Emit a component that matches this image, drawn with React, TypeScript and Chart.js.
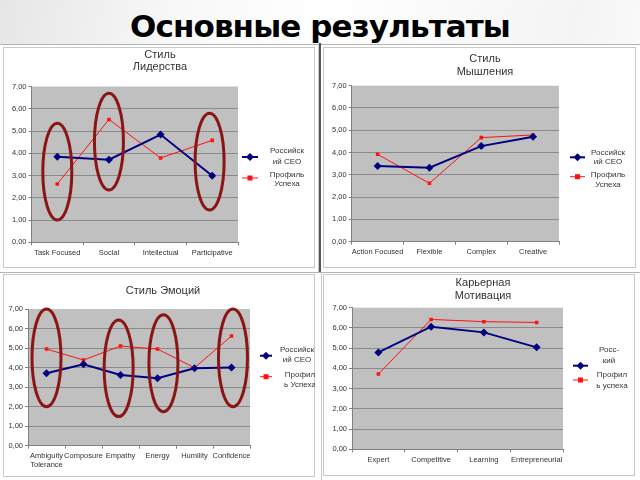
import React, { useEffect, useRef } from 'react';
import { Chart, registerables } from 'chart.js';

Chart.register(...registerables);

// ---------- data ----------
const leadershipTitle = ['Стиль', 'Лидерства'];
const leadershipCategories = ['Task Focused', 'Social', 'Intellectual', 'Participative'];
const leadershipCeo = [3.84, 3.71, 4.84, 2.99];
const leadershipSuccess = [2.62, 5.52, 3.79, 4.58];
const leadershipHighlights = [
  { at: 0, top: 5.35, bottom: 1.0 },
  { at: 1, top: 6.7, bottom: 2.35 },
  { at: 2.95, top: 5.8, bottom: 1.45 },
];

const thinkingTitle = ['Стиль', 'Мышления'];
const thinkingCategories = ['Action Focused', 'Flexible', 'Complex', 'Creative'];
const thinkingCeo = [3.4, 3.32, 4.29, 4.71];
const thinkingSuccess = [3.92, 2.62, 4.67, 4.79];

const emotionTitle = ['Стиль Эмоций'];
const emotionCategories = [['Ambiguity', 'Tolerance'], 'Composure', 'Empathy', 'Energy', 'Humility', 'Confidence'];
const emotionCeo = [3.71, 4.17, 3.62, 3.45, 3.96, 4.01];
const emotionSuccess = [4.95, 4.39, 5.1, 4.95, 3.99, 5.62];
const emotionHighlights = [
  { at: 0, top: 7.0, bottom: 2.0 },
  { at: 1.95, top: 6.44, bottom: 1.49 },
  { at: 3.16, top: 6.7, bottom: 1.74 },
  { at: 5.04, top: 7.0, bottom: 2.0 },
];

const motivationTitle = ['Карьерная', 'Мотивация'];
const motivationCategories = ['Expert', 'Competitive', 'Learning', 'Entrepreneurial'];
const motivationCeo = [4.79, 6.06, 5.78, 5.04];
const motivationSuccess = [3.72, 6.42, 6.31, 6.27];

const ceoLegendA = ['Российск', 'ий CEO'];
const successLegendA = ['Профиль', 'Успеха'];
const successLegendB = ['Профил', 'ь Успеха'];
const ceoLegendShort = ['Росс-', 'кий'];
const successLegendLower = ['Профил', 'ь успеха'];

const yMin = 0;
const yMax = 7;
const yStep = 1;

// ---------- styles ----------
const FONT = '"Liberation Sans", Arial, sans-serif';
const TEXT = '#333333';
const CEO_COLOR = '#000080';
const SUCCESS_COLOR = '#ff1010';
const ELLIPSE_COLOR = '#8b1414';
const PLOT_BG = '#c0c0c0';

type Highlight = { at: number; top: number; bottom: number };
type LegendEntry = { lines: string[]; lineY: number; textYs: number[]; textX: number };
type PanelCfg = {
  title: string[];
  categories: any[];
  ceo: number[];
  success: number[];
  highlights: Highlight[];
  box: { x: number; y: number; w: number; h: number };
  plot: { l: number; r: number; t: number; b: number };
  titlePos: { x: number; ys: number[] };
  legend: { x1: number; x2: number; ceo: LegendEntry; success: LegendEntry };
};

const panels: PanelCfg[] = [
  {
    title: leadershipTitle,
    categories: leadershipCategories,
    ceo: leadershipCeo,
    success: leadershipSuccess,
    highlights: leadershipHighlights,
    box: { x: 3, y: 47, w: 312, h: 221 },
    plot: { l: 31.5, r: 238, t: 86.5, b: 242.3 },
    titlePos: { x: 160, ys: [55, 67] },
    legend: {
      x1: 242, x2: 258,
      ceo: { lines: ceoLegendA, lineY: 157, textYs: [151, 162], textX: 287 },
      success: { lines: successLegendA, lineY: 178, textYs: [175, 184], textX: 287 },
    },
  },
  {
    title: thinkingTitle,
    categories: thinkingCategories,
    ceo: thinkingCeo,
    success: thinkingSuccess,
    highlights: [],
    box: { x: 323, y: 47, w: 313, h: 221 },
    plot: { l: 351.7, r: 559, t: 85.7, b: 241.7 },
    titlePos: { x: 485, ys: [59, 72] },
    legend: {
      x1: 570, x2: 585,
      ceo: { lines: ceoLegendA, lineY: 157.3, textYs: [152.7, 162], textX: 608 },
      success: { lines: successLegendA, lineY: 176.7, textYs: [175, 184.3], textX: 608 },
    },
  },
  {
    title: emotionTitle,
    categories: emotionCategories,
    ceo: emotionCeo,
    success: emotionSuccess,
    highlights: emotionHighlights,
    box: { x: 3, y: 274, w: 312, h: 203 },
    plot: { l: 28, r: 250, t: 309, b: 445.7 },
    titlePos: { x: 163, ys: [291] },
    legend: {
      x1: 260, x2: 272,
      ceo: { lines: ceoLegendA, lineY: 355.7, textYs: [350, 360], textX: 297 },
      success: { lines: successLegendB, lineY: 376.7, textYs: [375, 385], textX: 300 },
    },
  },
  {
    title: motivationTitle,
    categories: motivationCategories,
    ceo: motivationCeo,
    success: motivationSuccess,
    highlights: [],
    box: { x: 323, y: 274, w: 312, h: 202 },
    plot: { l: 352, r: 563, t: 307.7, b: 449.3 },
    titlePos: { x: 483, ys: [283, 296] },
    legend: {
      x1: 573, x2: 588,
      ceo: { lines: ceoLegendShort, lineY: 365.7, textYs: [350, 360.7], textX: 609 },
      success: { lines: successLegendLower, lineY: 380, textYs: [375, 385.7], textX: 612 },
    },
  },
];

function drawDiamond(ctx: CanvasRenderingContext2D, x: number, y: number, r: number, color: string) {
  ctx.beginPath();
  ctx.moveTo(x, y - r);
  ctx.lineTo(x + r, y);
  ctx.lineTo(x, y + r);
  ctx.lineTo(x - r, y);
  ctx.closePath();
  ctx.fillStyle = color;
  ctx.fill();
}

function makeDecor(cfg: PanelCfg) {
  const ox = cfg.box.x;
  const oy = cfg.box.y;
  return {
    id: 'decor',
    beforeDraw(chart: any) {
      const { ctx, chartArea } = chart;
      ctx.save();
      ctx.fillStyle = PLOT_BG;
      ctx.fillRect(chartArea.left, chartArea.top, chartArea.right - chartArea.left, chartArea.bottom - chartArea.top);
      ctx.restore();
    },
    afterDatasetsDraw(chart: any) {
      const { ctx } = chart;
      const xs = chart.scales.x;
      const ys = chart.scales.y;
      ctx.save();
      ctx.strokeStyle = ELLIPSE_COLOR;
      ctx.lineWidth = 3;
      for (const h of cfg.highlights) {
        const cx = xs.getPixelForValue(h.at);
        const yt = ys.getPixelForValue(h.top);
        const yb = ys.getPixelForValue(h.bottom);
        ctx.beginPath();
        ctx.ellipse(cx, (yt + yb) / 2, 14.5, (yb - yt) / 2, 0, 0, Math.PI * 2);
        ctx.stroke();
      }
      ctx.restore();
    },
    afterDraw(chart: any) {
      const { ctx } = chart;
      ctx.save();
      // title
      ctx.fillStyle = TEXT;
      ctx.textAlign = 'center';
      ctx.textBaseline = 'middle';
      ctx.font = `11px ${FONT}`;
      cfg.title.forEach((t, i) => ctx.fillText(t, cfg.titlePos.x - ox, cfg.titlePos.ys[i] - oy));
      // legend
      const lg = cfg.legend;
      const x1 = lg.x1 - ox;
      const x2 = lg.x2 - ox;
      const xm = (x1 + x2) / 2;
      // ceo
      let ly = lg.ceo.lineY - oy;
      ctx.strokeStyle = CEO_COLOR;
      ctx.lineWidth = 2;
      ctx.beginPath();
      ctx.moveTo(x1, ly);
      ctx.lineTo(x2, ly);
      ctx.stroke();
      drawDiamond(ctx, xm, ly, 4, CEO_COLOR);
      // success
      ly = lg.success.lineY - oy;
      ctx.strokeStyle = SUCCESS_COLOR;
      ctx.lineWidth = 1;
      ctx.beginPath();
      ctx.moveTo(x1, ly);
      ctx.lineTo(x2, ly);
      ctx.stroke();
      ctx.fillStyle = SUCCESS_COLOR;
      ctx.fillRect(xm - 2.5, ly - 2.5, 5, 5);
      // legend texts
      ctx.fillStyle = TEXT;
      ctx.font = `8px ${FONT}`;
      for (const e of [lg.ceo, lg.success]) {
        e.lines.forEach((t, i) => ctx.fillText(t, e.textX - ox, e.textYs[i] - oy));
      }
      ctx.restore();
    },
  };
}

function Panel({ cfg }: { cfg: PanelCfg }) {
  const ref = useRef<HTMLCanvasElement>(null);
  useEffect(() => {
    const { box, plot } = cfg;
    const pl = plot.l - box.x;
    const pr = plot.r - box.x;
    const pt = plot.t - box.y;
    const pb = plot.b - box.y;
    const chart = new Chart(ref.current as HTMLCanvasElement, {
      type: 'line',
      data: {
        labels: cfg.categories,
        datasets: [
          {
            label: 'Российский CEO',
            data: cfg.ceo,
            borderColor: CEO_COLOR,
            backgroundColor: CEO_COLOR,
            borderWidth: 2,
            pointStyle: 'rectRot',
            pointRadius: 4,
            pointBorderWidth: 0,
            tension: 0,
          },
          {
            label: 'Профиль Успеха',
            data: cfg.success,
            borderColor: SUCCESS_COLOR,
            backgroundColor: SUCCESS_COLOR,
            borderWidth: 1,
            pointStyle: 'rect',
            pointRadius: 2.5,
            pointBorderWidth: 0,
            tension: 0,
          },
        ],
      },
      options: {
        responsive: false,
        animation: false,
        events: [],
        layout: { padding: { left: 0, top: pt, right: box.w - pr, bottom: 0 } },
        plugins: {
          legend: { display: false },
          title: { display: false },
          tooltip: { enabled: false },
        },
        scales: {
          x: {
            offset: true,
            grid: {
              display: true,
              drawOnChartArea: false,
              drawTicks: true,
              tickLength: 3,
              offset: true,
              color: '#808080',
            },
            border: { display: true, color: '#808080', width: 1 },
            ticks: {
              autoSkip: false,
              maxRotation: 0,
              minRotation: 0,
              padding: 3,
              color: TEXT,
              font: { family: FONT, size: 7.5, lineHeight: 1.2 },
            },
            afterFit: (s: any) => {
              s.height = box.h - pb;
            },
          },
          y: {
            min: yMin,
            max: yMax,
            ticks: {
              stepSize: yStep,
              padding: 2,
              color: TEXT,
              font: { family: FONT, size: 7.5 },
              callback: (v: any) => Number(v).toFixed(2).replace('.', ','),
            },
            grid: {
              color: (c: any) => (c.tick && c.tick.value === yMax ? 'rgba(0,0,0,0)' : '#8a8a8a'),
              tickColor: '#808080',
              tickLength: 3,
              lineWidth: 1,
            },
            border: { display: true, color: '#808080', width: 1 },
            afterFit: (s: any) => {
              s.width = pl;
            },
          },
        },
      } as any,
      plugins: [makeDecor(cfg)],
    });
    return () => chart.destroy();
  }, [cfg]);
  const { box } = cfg;
  return (
    <>
      <div
        style={{
          position: 'absolute',
          left: box.x,
          top: box.y,
          width: box.w,
          height: box.h,
          boxSizing: 'border-box',
          background: '#ffffff',
          border: '1px solid #c8c8c8',
        }}
      />
      <canvas
        ref={ref}
        width={box.w}
        height={box.h}
        style={{ position: 'absolute', left: box.x, top: box.y, width: box.w, height: box.h }}
      />
    </>
  );
}

export default function App() {
  return (
    <div
      style={{
        position: 'fixed',
        left: 0,
        top: 0,
        width: 640,
        height: 480,
        overflow: 'hidden',
        background: 'linear-gradient(100deg, #e6e6e6 0%, #f8f8f8 25%, #ffffff 45%, #f4f4f4 80%, #ffffff 100%)',
      }}
    >
      <div
        style={{
          position: 'absolute',
          left: 0,
          top: 6,
          width: 640,
          textAlign: 'center',
          fontFamily: '"DejaVu Sans", Verdana, sans-serif',
          fontWeight: 'bold',
          fontSize: 31,
          lineHeight: '40px',
          color: '#000',
          letterSpacing: '-0.9px',
        }}
      >
        Основные результаты
      </div>
      {/* quadrant frames */}
      <div style={{ position: 'absolute', left: 0, top: 44, width: 318, height: 228, borderTop: '1px solid #b4b4b4', borderRight: '1px solid #c8c8c8', background: '#fff' }} />
      <div style={{ position: 'absolute', left: 319, top: 43, width: 2, height: 229, background: '#555' }} />
      <div style={{ position: 'absolute', left: 321, top: 44, width: 319, height: 228, borderTop: '1px solid #b4b4b4', background: '#fff' }} />
      <div style={{ position: 'absolute', left: 0, top: 272, width: 640, height: 208, borderTop: '1px solid #b4b4b4', background: '#fff' }} />
      <div style={{ position: 'absolute', left: 321, top: 273, width: 1, height: 207, background: '#c8c8c8' }} />
      {panels.map((p, i) => (
        <Panel key={i} cfg={p} />
      ))}
    </div>
  );
}
